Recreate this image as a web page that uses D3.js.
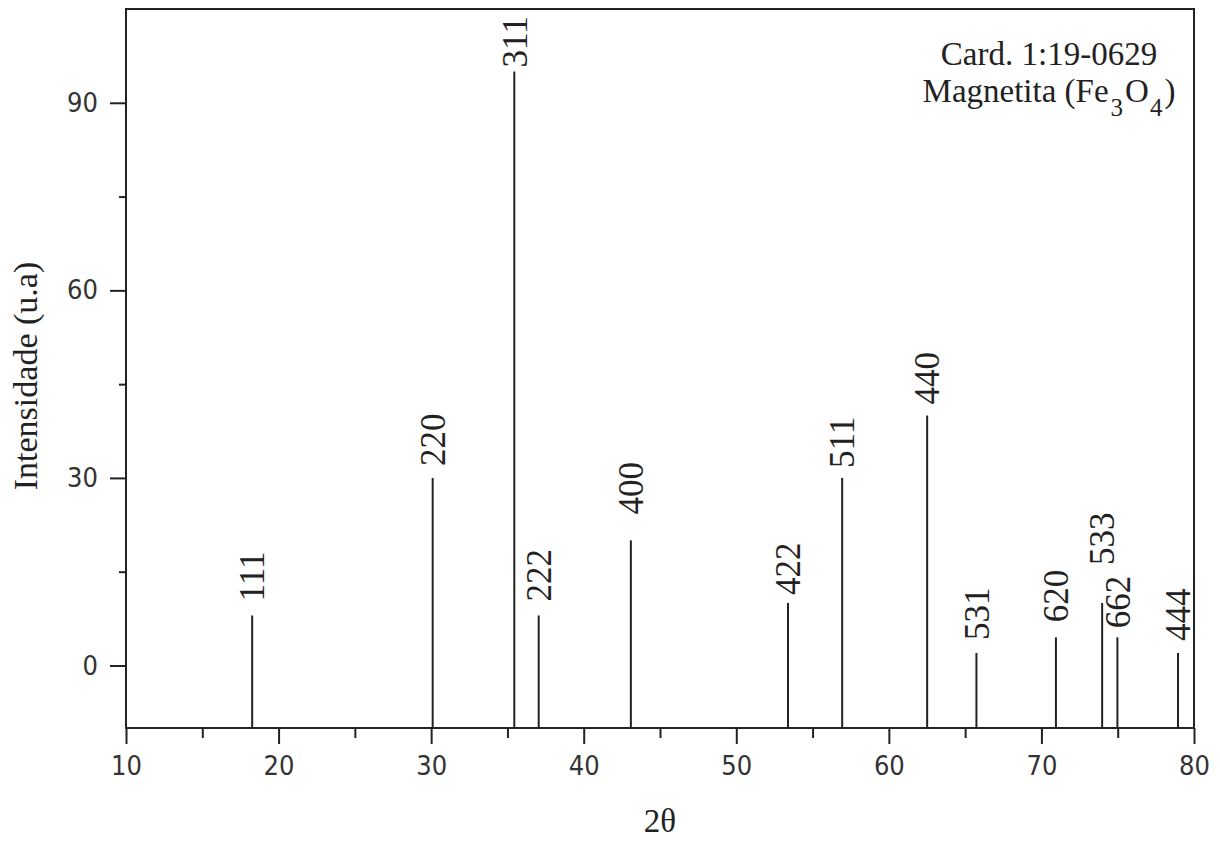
<!DOCTYPE html>
<html>
<head>
<meta charset="utf-8">
<script src="https://cdn.jsdelivr.net/npm/d3@7"></script>
<style>
  body { margin: 0; background: #fff; }
  .tick text { font-family: "DejaVu Sans Condensed", "DejaVu Sans", sans-serif; font-size: 27px; fill: #333; }
  text.serif { font-family: "Liberation Serif", "Times New Roman", serif; fill: #222; }
</style>
</head>
<body>
<div id="chart"></div>
<script>
// Magnetita card peaks
var peakAngles  = [18.27, 30.10, 35.45, 37.05, 43.09, 53.39, 56.94, 62.51, 65.74, 70.95, 73.98, 74.98, 78.95];
var peakHeights = [8, 30, 95, 8, 20, 10, 30, 40, 2, 4.5, 10, 4.5, 2];
var peakLabels  = ["111", "220", "311", "222", "400", "422", "511", "440", "531", "620", "533", "662", "444"];

var xTicks = [10, 20, 30, 40, 50, 60, 70, 80];
var xMinor = [15, 25, 35, 45, 55, 65, 75];
var yTicks = [0, 30, 60, 90];
var yMinor = [15, 45, 75];

// gap between line top and its label (labels moved to avoid overlap)
var labelGap = {"111": 14, "220": 12, "311": 4, "222": 14, "400": 26, "422": 8, "511": 10,
                "440": 11, "531": 13, "620": 15, "533": 38, "662": 9, "444": 12};

var width = 1220, height = 843;
var serif = '"Liberation Serif", "Times New Roman", serif';

var svg = d3.select("#chart").append("svg")
    .attr("width", width)
    .attr("height", height);

var x = d3.scaleLinear().domain([10, 80]).range([126, 1194]);
var y = d3.scaleLinear().domain([-10, 105]).range([728, 9]);

var data = peakAngles.map(function(a, i) {
    return {angle: a, h: peakHeights[i], label: peakLabels[i]};
});

// x axis, major + minor
svg.append("g")
    .attr("class", "x-axis axis")
    .attr("transform", "translate(0," + y(-10) + ")")
    .call(d3.axisBottom(x).tickValues(xTicks).tickSize(16).tickSizeOuter(0).tickPadding(12));

svg.append("g")
    .attr("class", "x-minor axis")
    .attr("transform", "translate(0," + y(-10) + ")")
    .call(d3.axisBottom(x).tickValues(xMinor).tickSize(10).tickFormat(""));

// y axis
svg.append("g")
    .attr("class", "y-axis axis")
    .attr("transform", "translate(" + x(10) + ",0)")
    .call(d3.axisLeft(y).tickValues(yTicks).tickSize(16).tickSizeOuter(0).tickPadding(12));

svg.append("g")
    .attr("class", "y-minor axis")
    .attr("transform", "translate(" + x(10) + ",0)")
    .call(d3.axisLeft(y).tickValues(yMinor).tickSize(7).tickFormat(""));

svg.selectAll(".axis .domain").remove();
svg.selectAll(".axis line").attr("stroke", "#222").attr("stroke-width", 2);

// frame
svg.append("rect")
    .attr("x", x(10))
    .attr("y", y(105))
    .attr("width", x(80) - x(10))
    .attr("height", y(-10) - y(105))
    .attr("fill", "none")
    .attr("stroke", "#222")
    .attr("stroke-width", 2);

// peak lines
svg.selectAll("line.peak")
    .data(data)
    .enter().append("line")
    .attr("class", "peak")
    .attr("x1", function(d) { return x(d.angle); })
    .attr("x2", function(d) { return x(d.angle); })
    .attr("y1", y(-10))
    .attr("y2", function(d) { return y(d.h); })
    .attr("stroke", "#222")
    .attr("stroke-width", 2);

// peak labels
svg.selectAll("text.peak-label")
    .data(data)
    .enter().append("text")
    .attr("class", "peak-label serif")
    .attr("transform", function(d) {
        return "translate(" + x(d.angle) + "," + (y(d.h) - labelGap[d.label]) + ") rotate(-90)";
    })
    .attr("dy", "0.35em")
    .style("font-family", serif)
    .style("font-size", "35px")
    .text(function(d) { return d.label; });

// axis titles
svg.append("text")
    .attr("class", "serif")
    .attr("transform", "translate(37,376) rotate(-90)")
    .attr("text-anchor", "middle")
    .style("font-family", serif)
    .style("font-size", "34px")
    .text("Intensidade (u.a)");

svg.append("text")
    .attr("class", "serif")
    .attr("x", 660)
    .attr("y", 832)
    .attr("text-anchor", "middle")
    .style("font-family", serif)
    .style("font-size", "33px")
    .text("2θ");

// card annotation
svg.append("text")
    .attr("class", "serif")
    .attr("x", 1049)
    .attr("y", 65)
    .attr("text-anchor", "middle")
    .style("font-family", serif)
    .style("font-size", "33px")
    .text("Card. 1:19-0629");

var mag = svg.append("text")
    .attr("class", "serif")
    .attr("x", 1049)
    .attr("y", 102)
    .attr("text-anchor", "middle")
    .style("font-family", serif)
    .style("font-size", "33px");
mag.append("tspan").text("Magnetita (Fe");
mag.append("tspan").attr("dy", 14).attr("dx", 2).style("font-size", "25px").text("3");
mag.append("tspan").attr("dy", -14).attr("dx", 2).text("O");
mag.append("tspan").attr("dy", 14).attr("dx", 1).style("font-size", "25px").text("4");
mag.append("tspan").attr("dy", -14).attr("dx", 2).text(")");
</script>
</body>
</html>
